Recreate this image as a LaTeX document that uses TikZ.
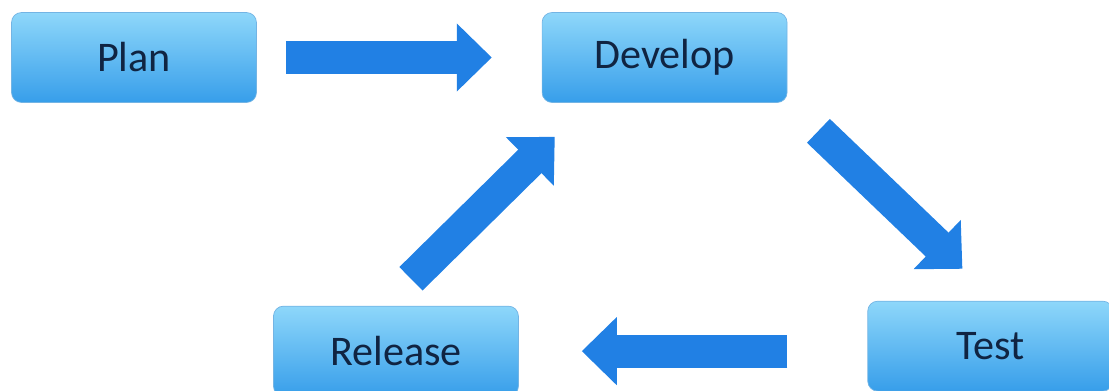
\documentclass[tikz,border=0pt]{standalone}
\usepackage{fontspec}
\setmainfont{Carlito}
\usetikzlibrary{positioning,arrows.meta}

\definecolor{boxtop}{RGB}{142,215,250}
\definecolor{boxbot}{RGB}{55,158,234}
\definecolor{boxline}{RGB}{115,180,228}
\definecolor{arrowblue}{RGB}{33,128,228}
\definecolor{labelblue}{RGB}{16,36,66}

\begin{document}
\begin{tikzpicture}[x=0.02cm,y=-0.02cm,
                font=\fontsize{24}{28}\selectfont]
        \tikzstyle{stage}=[rectangle,rounded corners=0.2cm,minimum width=4.9cm,
                minimum height=1.8cm,top color=boxtop,bottom color=boxbot,
                draw=boxline,thin,text=labelblue]
        \tikzstyle{flow}=[-{Triangle[length=0.7cm,width=1.32cm]},
                line width=0.66cm,draw=arrowblue]

        \useasboundingbox (0,0) rectangle (1109,391);

        \node[stage] (Plan) at (134,57.5) {Plan};
        \node[stage] (Develop) [right=5.7cm of Plan] {Develop};
        \node[stage] (Test) [below right=3.96cm and 1.6cm of Develop] {Test};
        \node[stage] (Release) [below left=4.06cm and 0.46cm of Develop] {Release};

        \draw[flow,shorten <=0.58cm,shorten >=1cm] (Plan) -- (Develop);
        \draw[flow] ([shift={(31,28)}]Develop.south east) -- ([shift={(95,-32)}]Test.north west);
        \draw[flow,shorten <=1.6cm,shorten >=1.26cm] (Test.west |- Release.east) -- (Release.east);
        \draw[flow] ([shift={(15,-27)}]Release.north) -- ([shift={(13,34)}]Develop.south west);

        \end{tikzpicture}
\end{document}
